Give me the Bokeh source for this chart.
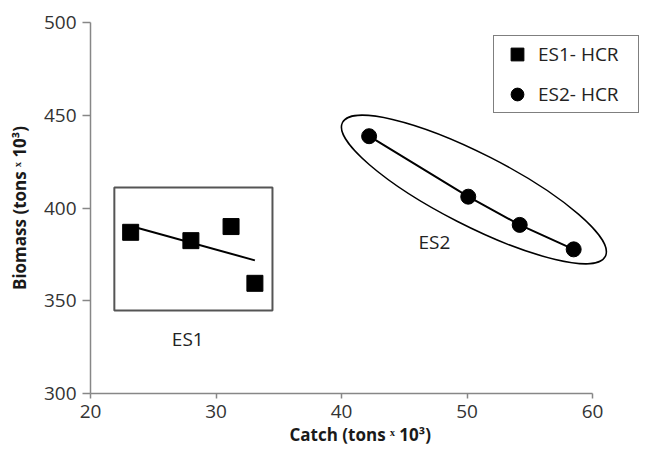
from bokeh.plotting import figure
from bokeh.models import (Range1d, FixedTicker, Legend, LegendItem, Label, BoxAnnotation, Title)
from bokeh.embed import file_html
from bokeh.resources import INLINE
import numpy as np

# ---- data ----
es1_catch = [23.2, 28.0, 31.2, 33.1]
es1_biomass = [386.9, 382.4, 390.0, 359.4]
es2_catch = [42.2, 50.1, 54.2, 58.5]
es2_biomass = [438.7, 406.1, 390.9, 377.7]
x_ticks = [20, 30, 40, 50, 60]
y_ticks = [300, 350, 400, 450, 500]
series_names = ["ES1- HCR", "ES2- HCR"]
group_labels = ["ES1", "ES2"]

FONT = "Open Sans"

# layout: axis spans 90..592 px for 20..60; frame extends further right so that
# the ellipse and legend (which lie beyond x=60) are not clipped
AX_LEFT, AX_RIGHT, FRAME_RIGHT = 90, 592, 652
px_per_unit = (AX_RIGHT - AX_LEFT) / (x_ticks[-1] - x_ticks[0])
x_end = x_ticks[-1] + (FRAME_RIGHT - AX_RIGHT) / px_per_unit

p = figure(width=668, height=454, output_backend="svg", toolbar_location=None,
           x_range=Range1d(x_ticks[0], x_end), y_range=Range1d(y_ticks[0], y_ticks[-1]),
           min_border_left=AX_LEFT, min_border_right=668 - FRAME_RIGHT,
           min_border_top=22, min_border_bottom=61)
p.outline_line_color = None
p.xgrid.visible = False
p.ygrid.visible = False
p.background_fill_color = "white"
p.border_fill_color = "white"

for ax, ticks in ((p.xaxis[0], x_ticks), (p.yaxis[0], y_ticks)):
    ax.ticker = FixedTicker(ticks=ticks)
    ax.bounds = (ticks[0], ticks[-1])
    ax.axis_line_color = "#878787"
    ax.axis_line_width = 1.5
    ax.major_tick_line_color = "#878787"
    ax.major_tick_line_width = 1.5
    ax.major_tick_in = 0
    ax.minor_tick_line_color = None
    ax.major_label_text_font = FONT
    ax.major_label_text_font_size = "19px"
    ax.major_label_text_color = "#333333"
    ax.axis_label_text_font = FONT
    ax.axis_label_text_font_size = "17px"
    ax.axis_label_text_font_style = "bold"
    ax.axis_label_text_color = "#1a1a1a"

p.xaxis.major_tick_out = 5
p.yaxis.major_tick_out = 8
p.xaxis.major_label_standoff = 6
p.yaxis.major_label_standoff = 6
p.yaxis.axis_label_standoff = 10
p.yaxis.axis_label = "Biomass (tons \u02e3 10\u00b3)"

# x-axis title, centred under the 20..60 axis
p.add_layout(Title(text="Catch (tons \u02e3 10\u00b3)", align="left", offset=199,
                   text_font=FONT, text_font_size="17px", text_font_style="bold",
                   text_color="#1a1a1a", standoff=0), "below")

# ES1 group box
p.add_layout(BoxAnnotation(left=21.9, right=34.5, bottom=344.7, top=411.0,
                           fill_color=None, fill_alpha=0, line_color="#555555",
                           line_alpha=1, line_width=2))

# ES2 group ellipse
p.ellipse(x=[50.55], y=[410.0], width=295, height=72, width_units="screen",
          height_units="screen", angle=-27, angle_units="deg",
          fill_color=None, line_color="black", line_width=1.5)

# ES1 trend line (linear fit)
k, b = np.polyfit(es1_catch, es1_biomass, 1)
xs = [min(es1_catch), max(es1_catch)]
p.line(xs, [k * x + b for x in xs], line_color="black", line_width=2)

# ES2 connecting line
p.line(es2_catch, es2_biomass, line_color="black", line_width=2)

r1 = p.scatter(es1_catch, es1_biomass, marker="square", size=16,
               fill_color="black", line_color="black")
r2 = p.scatter(es2_catch, es2_biomass, marker="circle", size=15,
               fill_color="black", line_color="black")

for txt, (lx, ly) in zip(group_labels, [(27.75, 329.6), (47.4, 381.6)]):
    p.add_layout(Label(x=lx, y=ly, text=txt, text_font=FONT, text_font_size="19px",
                       text_color="#222222", text_align="center", text_baseline="middle"))

legend = Legend(items=[LegendItem(label=series_names[0], renderers=[r1]),
                       LegendItem(label=series_names[1], renderers=[r2])],
                location=(403, 280), orientation="vertical",
                glyph_width=42, glyph_height=32, label_standoff=0, label_width=98,
                padding=2, spacing=8, margin=0,
                border_line_color="black", border_line_width=1.5,
                background_fill_color="white", background_fill_alpha=1,
                label_text_font=FONT, label_text_font_size="19px",
                label_text_color="#222222")
p.add_layout(legend, "center")

open("out.html", "w").write(file_html(p, INLINE))
